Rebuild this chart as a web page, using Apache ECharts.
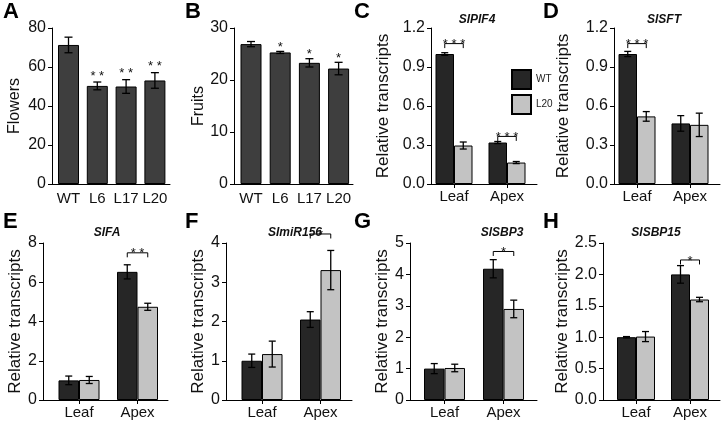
<!DOCTYPE html>
<html><head><meta charset="utf-8">
<script src="https://cdn.jsdelivr.net/npm/echarts/dist/echarts.min.js"></script>
<style>html,body{margin:0;padding:0;background:#fff}#c{width:724px;height:423px}</style>
</head><body><div id="c"></div>
<script>
// ---------- data ----------
const lineCats = ['WT', 'L6', 'L17', 'L20'];
const flowers = [71.3, 50.3, 50.0, 53.1];
const flowersErr = [4.0, 2.0, 3.5, 4.0];
const flowersSig = ['', '**', '**', '**'];
const flowersTicks = [0, 20, 40, 60, 80];
const fruits = [26.9, 25.3, 23.3, 22.2];
const fruitsErr = [0.5, 0.2, 0.8, 1.2];
const fruitsSig = ['', '*', '*', '*'];
const fruitsTicks = [0, 10, 20, 30];

const tissues = ['Leaf', 'Apex'];
const groups = ['WT', 'L20'];

const pif4WT = [1.00, 0.319], pif4WTErr = [0.01, 0.008];
const pif4L20 = [0.296, 0.165], pif4L20Err = [0.027, 0.008];
const pif4Sig = ['***', '***'], pif4SigAt = [1.08, 0.366];
const pif4Ticks = [0, 0.3, 0.6, 0.9, 1.2];

const sftWT = [1.00, 0.466], sftWTErr = [0.02, 0.06];
const sftL20 = [0.52, 0.455], sftL20Err = [0.037, 0.09];
const sftSig = ['***', ''], sftSigAt = [1.08, 0];
const sftTicks = [0, 0.3, 0.6, 0.9, 1.2];

const faWT = [1.00, 6.53], faWTErr = [0.22, 0.36];
const faL20 = [1.02, 4.75], faL20Err = [0.18, 0.18];
const faSig = ['', '**'], faSigAt = [0, 7.5];
const faTicks = [0, 2, 4, 6, 8];

const mirWT = [1.00, 2.05], mirWTErr = [0.17, 0.2];
const mirL20 = [1.17, 3.31], mirL20Err = [0.33, 0.5];
const mirSig = ['', '*'], mirSigAt = [0, 4.23];
const mirTicks = [0, 1, 2, 3, 4];

const sbp3WT = [1.00, 4.18], sbp3WTErr = [0.16, 0.29];
const sbp3L20 = [1.02, 2.90], sbp3L20Err = [0.12, 0.28];
const sbp3Sig = ['', '*'], sbp3SigAt = [0, 4.73];
const sbp3Ticks = [0, 1, 2, 3, 4, 5];

const sbp15WT = [1.00, 2.00], sbp15WTErr = [0.01, 0.14];
const sbp15L20 = [1.01, 1.60], sbp15L20Err = [0.08, 0.035];
const sbp15Sig = ['', '*'], sbp15SigAt = [0, 2.23];
const sbp15Ticks = [0, 0.5, 1.0, 1.5, 2.0, 2.5];

const panelLetters = ['A', 'B', 'C', 'D', 'E', 'F', 'G', 'H'];
const geneNames = ['SlPIF4', 'SlSFT', 'SlFA', 'SlmiR156', 'SlSBP3', 'SlSBP15'];

// ---------- layout (pixels) ----------
const axisX = [52, 234, 431, 614, 43, 226, 410, 603];
const endX  = [170, 353, 537, 720, 168, 352, 537, 720];
const firstC = [68.5, 251, 454, 637, 79, 262, 444.5, 636];
const stepPx = [28.8, 29.2, 53, 53, 58.5, 58.5, 59, 54];
const barW = [21, 21, 18.5, 18.5, 20.5, 20.5, 20.5, 19];
const nameGap = [29, 27, 39, 42, 16, 16, 18, 26];
const rowTop = [28, 243], rowH = [156, 157];
const letterX = [3, 185, 354, 543, 3, 185, 354, 543];
const geneX = [472, 659, 102, 290, 497, 651];

const FONT = 'Liberation Sans, Arial, sans-serif';
const DARK = '#262626', DARK_AB = '#3e3e3e', LIGHT = '#c3c3c3';

const grids = [], xAxes = [], yAxes = [], series = [], titles = [];

function addAxes(i, cats, ticks, yName, fmt, withXTicks) {
  const row = i < 4 ? 0 : 1;
  const minX = -(firstC[i] - axisX[i]) / stepPx[i];
  const maxX = minX + (endX[i] - axisX[i]) / stepPx[i];
  grids.push({left: axisX[i], top: rowTop[row], width: endX[i] - axisX[i], height: rowH[row]});
  const idx = cats.map((c, k) => k);
  xAxes.push({
    type: 'value', gridIndex: i, min: minX, max: maxX,
    splitLine: {show: false},
    axisLine: {show: true, onZero: false, lineStyle: {color: '#000', width: 1}},
    axisTick: {show: withXTicks, customValues: idx, length: 4, lineStyle: {color: '#000'}},
    axisLabel: {customValues: idx, formatter: v => cats[Math.round(v)], fontSize: 15,
      color: '#111', fontFamily: FONT, margin: withXTicks ? 5 : 7}
  });
  yAxes.push({
    type: 'value', gridIndex: i, min: ticks[0], max: ticks[ticks.length - 1],
    interval: ticks[1] - ticks[0],
    name: yName, nameLocation: 'middle', nameGap: nameGap[i],
    nameTextStyle: {fontSize: i < 2 ? 16 : 17, color: '#111', fontFamily: FONT},
    splitLine: {show: false},
    axisLine: {show: true, onZero: false, lineStyle: {color: '#000', width: 1}},
    axisTick: {show: true, length: 4, lineStyle: {color: '#000'}},
    axisLabel: {fontSize: 16, color: '#111', fontFamily: FONT, margin: 6, formatter: fmt}
  });
}

function barSeries(i, name, vals, color) {
  series.push({
    type: 'bar', name: name, xAxisIndex: i, yAxisIndex: i,
    data: vals.map((v, k) => [k, v]), barWidth: barW[i], barGap: '0%',
    itemStyle: {color: color, borderColor: '#000', borderWidth: 1},
    silent: true, animation: false
  });
}

function errSeries(i, vals, errs, off, cap) {
  series.push({
    type: 'custom', xAxisIndex: i, yAxisIndex: i, z: 5, silent: true, animation: false,
    data: vals.map((v, k) => [k, v, errs[k]]),
    renderItem: (p, api) => {
      const k = api.value(0), v = api.value(1), e = api.value(2);
      const x = api.coord([k, v])[0] + off;
      const yt = api.coord([k, v + e])[1], yb = api.coord([k, v - e])[1];
      const st = {stroke: '#000', lineWidth: 1.3};
      return {type: 'group', children: [
        {type: 'line', shape: {x1: x, y1: yt, x2: x, y2: yb}, style: st},
        {type: 'line', shape: {x1: x - cap, y1: yt, x2: x + cap, y2: yt}, style: st},
        {type: 'line', shape: {x1: x - cap, y1: yb, x2: x + cap, y2: yb}, style: st}
      ]};
    }
  });
}

function starSeries(i, vals, errs, sig, lift) {
  series.push({
    type: 'custom', xAxisIndex: i, yAxisIndex: i, z: 6, silent: true, animation: false,
    data: vals.map((v, k) => [k, v + errs[k]]),
    renderItem: (p, api) => {
      const s = sig[p.dataIndex];
      if (!s) return null;
      const c = api.coord([api.value(0), api.value(1)]);
      return {type: 'text', style: {x: c[0], y: c[1] - lift, text: s.split('').join(' '),
        align: 'center', verticalAlign: 'middle', fontSize: 13, fontFamily: FONT, fill: '#111'}};
    }
  });
}

function bracketSeries(i, sig, at) {
  const w = barW[i];
  const keep = [];
  sig.forEach((s, k) => { if (s) keep.push(k); });
  series.push({
    type: 'custom', xAxisIndex: i, yAxisIndex: i, z: 6, silent: true, animation: false,
    data: keep.map(k => [k, at[k]]),
    renderItem: (p, api) => {
      const s = sig[keep[p.dataIndex]];
      const c = api.coord([api.value(0), api.value(1)]);
      const x0 = c[0] - w / 2, x1 = c[0] + w / 2, y = c[1];
      return {type: 'group', children: [
        {type: 'polyline', shape: {points: [[x0, y + 4.5], [x0, y], [x1, y], [x1, y + 4.5]]},
          style: {stroke: '#000', lineWidth: 1, fill: null}},
        {type: 'text', style: {x: c[0], y: y + 1, text: s.split('').join(' '), align: 'center',
          verticalAlign: 'middle', fontSize: 13, fontFamily: FONT, fill: '#111'}}
      ]};
    }
  });
}

// Panels A, B
const intFmt = v => String(v);
const dec1 = v => v.toFixed(1);
addAxes(0, lineCats, flowersTicks, 'Flowers', intFmt, false);
barSeries(0, 'Flowers', flowers, DARK_AB);
errSeries(0, flowers, flowersErr, 0, 4);
starSeries(0, flowers, flowersErr, flowersSig, 6);

addAxes(1, lineCats, fruitsTicks, 'Fruits', intFmt, false);
barSeries(1, 'Fruits', fruits, DARK_AB);
errSeries(1, fruits, fruitsErr, 0, 4);
starSeries(1, fruits, fruitsErr, fruitsSig, 4);

// Panels C-H
const genePanels = [
  [pif4WT, pif4WTErr, pif4L20, pif4L20Err, pif4Sig, pif4SigAt, pif4Ticks, dec1],
  [sftWT, sftWTErr, sftL20, sftL20Err, sftSig, sftSigAt, sftTicks, dec1],
  [faWT, faWTErr, faL20, faL20Err, faSig, faSigAt, faTicks, intFmt],
  [mirWT, mirWTErr, mirL20, mirL20Err, mirSig, mirSigAt, mirTicks, intFmt],
  [sbp3WT, sbp3WTErr, sbp3L20, sbp3L20Err, sbp3Sig, sbp3SigAt, sbp3Ticks, intFmt],
  [sbp15WT, sbp15WTErr, sbp15L20, sbp15L20Err, sbp15Sig, sbp15SigAt, sbp15Ticks, dec1]
];
genePanels.forEach((g, j) => {
  const i = j + 2;
  addAxes(i, tissues, g[6], 'Relative transcripts', g[7], true);
  barSeries(i, groups[0], g[0], DARK);
  barSeries(i, groups[1], g[2], LIGHT);
  errSeries(i, g[0], g[1], -barW[i] / 2, 3.5);
  errSeries(i, g[2], g[3], barW[i] / 2, 3.5);
  bracketSeries(i, g[4], g[5]);
  titles.push({text: geneNames[j], left: geneX[j], top: i < 4 ? 9 : 222, textAlign: 'center',
    textStyle: {fontSize: 12, fontWeight: 'bold', fontStyle: 'italic', color: '#111', fontFamily: FONT}});
});

panelLetters.forEach((L, i) => {
  titles.push({text: L, left: letterX[i], top: i < 4 ? 1 : 211, padding: 0,
    textStyle: {fontSize: 22, fontWeight: 'bold', color: '#000', fontFamily: FONT}});
});

const chart = echarts.init(document.getElementById('c'), null, {renderer: 'canvas'});
chart.setOption({
  animation: false,
  backgroundColor: '#fff',
  title: titles,
  legend: {data: groups, orient: 'vertical', left: 506, top: 64, itemWidth: 19, itemHeight: 19,
    itemGap: 4, icon: 'rect', selectedMode: false,
    textStyle: {fontSize: 10, color: '#222', fontFamily: FONT}},
  grid: grids, xAxis: xAxes, yAxis: yAxes, series: series
});
</script></body></html>
